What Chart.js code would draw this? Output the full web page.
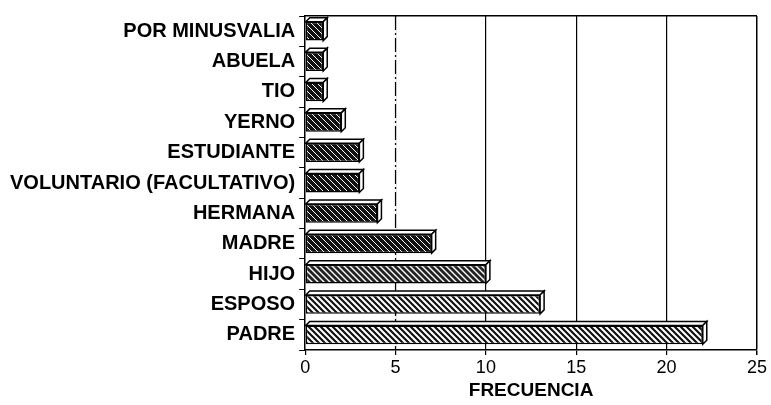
<!DOCTYPE html>
<html>
<head>
<meta charset="utf-8">
<script src="https://cdn.jsdelivr.net/npm/chart.js@4.4.0/dist/chart.umd.min.js"></script>
<style>
  body { margin: 0; background: #fff; }
  #wrap { width: 771px; height: 405px; }
</style>
</head>
<body>
<div id="wrap"><canvas id="bar-chart" width="771" height="405"></canvas></div>
<script>
// categories, top to bottom
const categories = ["POR MINUSVALIA", "ABUELA", "TIO", "YERNO", "ESTUDIANTE",
  "VOLUNTARIO (FACULTATIVO)", "HERMANA", "MADRE", "HIJO", "ESPOSO", "PADRE"];
const frecuencia = [1, 1, 1, 2, 3, 3, 4, 7, 10, 13, 22];
const xTicks = [0, 5, 10, 15, 20, 25];

// hatch fill: dark ground with light diagonal lines
function hatch(ground, line, width) {
  const c = document.createElement('canvas');
  c.width = 6; c.height = 6;
  const g = c.getContext('2d');
  g.fillStyle = ground;
  g.fillRect(0, 0, 6, 6);
  g.strokeStyle = line;
  g.lineWidth = width;
  g.beginPath();
  g.moveTo(-1, -1); g.lineTo(7, 7);
  g.moveTo(-4, 2); g.lineTo(4, 10);
  g.moveTo(2, -4); g.lineTo(10, 4);
  g.stroke();
  return g.createPattern(c, 'repeat');
}
const ctx = document.getElementById('bar-chart').getContext('2d');
const darkFill = hatch('#111', '#fff', 1);
const midFill = hatch('#222', '#fff', 1.4);
const lightFill = hatch('#fff', '#111', 2.2);
const fills = frecuencia.map((v, i) => i < 8 ? darkFill : (i < 9 ? midFill : lightFill));

// white 3D top and end faces on each bar
const depth = {
  id: 'depth',
  afterDatasetsDraw(chart) {
    const c = chart.ctx;
    const d = 4;
    chart.getDatasetMeta(0).data.forEach(bar => {
      const top = bar.y - bar.height / 2, bottom = bar.y + bar.height / 2;
      c.save();
      c.fillStyle = '#fff';
      c.strokeStyle = '#000';
      c.lineWidth = 1.5;
      c.beginPath();
      c.moveTo(bar.base, top);
      c.lineTo(bar.base + d, top - d);
      c.lineTo(bar.x + d, top - d);
      c.lineTo(bar.x, top);
      c.closePath();
      c.fill(); c.stroke();
      c.beginPath();
      c.moveTo(bar.x, top);
      c.lineTo(bar.x + d, top - d);
      c.lineTo(bar.x + d, bottom - d);
      c.lineTo(bar.x, bottom);
      c.closePath();
      c.fill(); c.stroke();
      c.restore();
    });
  }
};

new Chart(ctx, {
  type: 'bar',
  data: {
    labels: categories,
    datasets: [{
      data: frecuencia,
      backgroundColor: fills,
      borderColor: '#000',
      borderWidth: 1.5,
      borderSkipped: false,
      barPercentage: 0.62,
      categoryPercentage: 1
    }]
  },
  options: {
    indexAxis: 'y',
    responsive: false,
    animation: false,
    layout: { padding: { top: 0, right: 7, left: 6, bottom: 5 } },
    plugins: { legend: { display: false }, tooltip: { enabled: false } },
    scales: {
      x: {
        min: 0, max: 25,
        afterBuildTicks: axis => { axis.ticks = xTicks.map(v => ({ value: v })); },
        border: { display: true, color: '#000', width: 1.5 },
        grid: {
          color: ctx => (ctx.tick && ctx.tick.value === 0) ? 'rgba(0,0,0,0)' : '#000',
          lineWidth: ctx => (ctx.tick && ctx.tick.value === 25) ? 1.5 : 1.2,
          tickColor: '#000',
          tickLength: 5
        },
        ticks: { color: '#000', font: { family: 'Liberation Sans', size: 18, lineHeight: 1 }, padding: 4 },
        title: {
          display: true, text: 'FRECUENCIA', color: '#000',
          font: { family: 'Liberation Sans', size: 19, weight: 'bold', lineHeight: 1 }, padding: { top: 0, bottom: 0 }
        }
      },
      x2: {
        position: 'top', min: 0, max: 25,
        ticks: { display: false },
        grid: { display: false },
        border: { display: true, color: '#000', width: 1.5 }
      },
      y: {
        border: { display: true, color: '#000', width: 1.5 },
        grid: { offset: true, drawOnChartArea: false, tickColor: '#000', tickLength: 6 },
        ticks: { color: '#000', font: { family: 'Liberation Sans', size: 20, weight: 'bold' }, padding: 4 }
      }
    }
  },
  plugins: [depth, {
    id: 'dashFive',
    beforeDatasetsDraw(chart) {
      // the 5 line is dashed in the original; overdraw it
      const x = chart.scales.x.getPixelForValue(5), a = chart.chartArea, c = chart.ctx;
      c.save();
      c.strokeStyle = '#fff'; c.lineWidth = 2;
      c.beginPath(); c.moveTo(x, a.top + 1); c.lineTo(x, a.bottom - 1); c.stroke();
      c.strokeStyle = '#000'; c.lineWidth = 1.2; c.setLineDash([14, 3, 2, 3]);
      c.beginPath(); c.moveTo(x, a.top); c.lineTo(x, a.bottom); c.stroke();
      c.restore();
    }
  }]
});
</script>
</body>
</html>
